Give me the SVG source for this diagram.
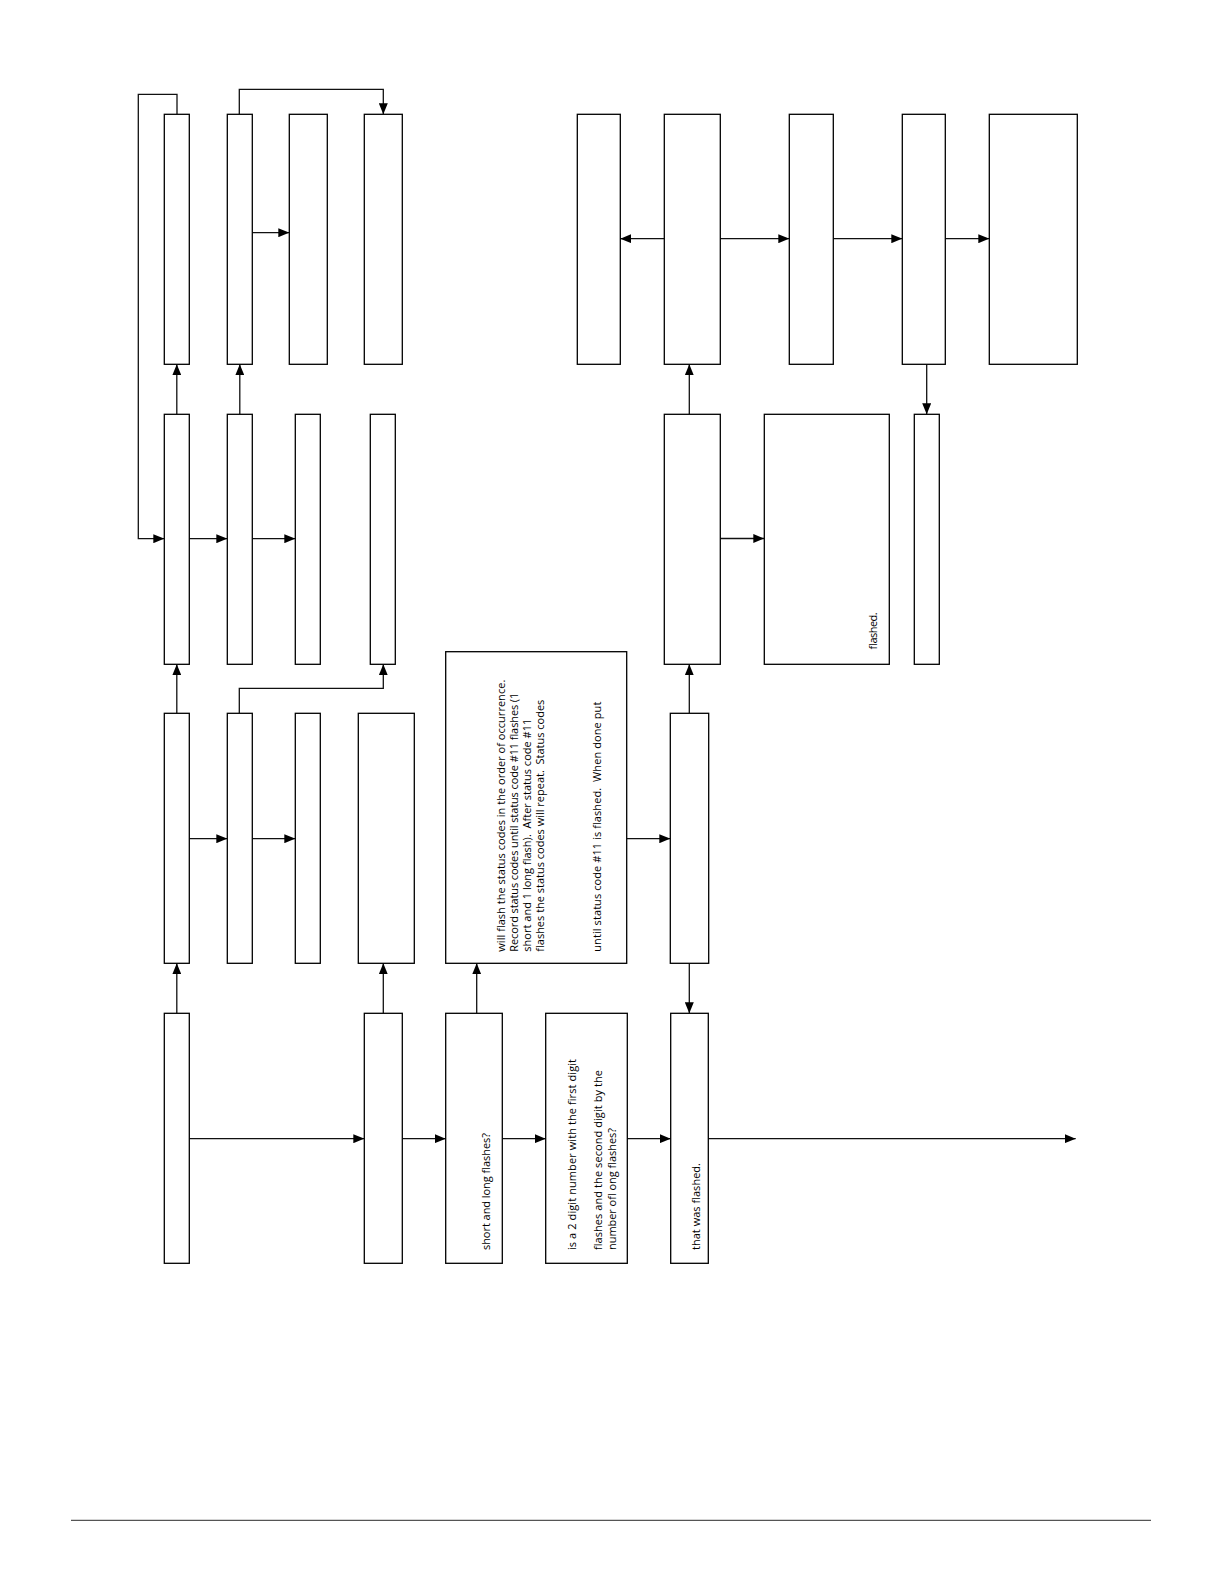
<svg xmlns="http://www.w3.org/2000/svg" width="1224" height="1584" viewBox="0 0 1224 1584">
<style>
.box{fill:#fff;stroke:#000;stroke-width:1.3}
.ln{fill:none;stroke:#111;stroke-width:1.3}
.t{font-family:"Open Sans","Liberation Sans",sans-serif;font-size:11px;fill:#000}
</style>
<defs>
<marker id="ah" viewBox="0 0 11 9" refX="11" refY="4.5" markerWidth="11" markerHeight="9" markerUnits="userSpaceOnUse" orient="auto">
<path d="M0,0 L11,4.5 L0,9 z" fill="#000"/>
</marker>
</defs>
<rect width="1224" height="1584" fill="#fff"/>

<g id="connectors" class="ln" marker-end="url(#ah)">
<path d="M177,114.3 V94.3 H138.3 V538.7 H164.3"/>
<path d="M189.3,538.7 H227.3"/>
<path d="M252.3,538.7 H295.3"/>
<path d="M176.8,414.3 V364.3"/>
<path d="M239.8,414.3 V364.3"/>
<path d="M239.3,114.3 V89.3 H383.3 V114.3"/>
<path d="M252.3,232.7 H289.3"/>
<path d="M176.8,713.3 V664.3"/>
<path d="M189.3,838.7 H227.3"/>
<path d="M252.3,838.7 H295.3"/>
<path d="M239.3,713.3 V688.3 H383.3 V664.3"/>
<path d="M383.3,1013.3 V963.3"/>
<path d="M176.8,1013.3 V963.3"/>
<path d="M189.3,1138.7 H364.3"/>
<path d="M402.3,1138.7 H445.7"/>
<path d="M502.3,1138.7 H545.7"/>
<path d="M627.3,1138.7 H670.7"/>
<path d="M708.3,1138.7 H1075.7"/>
<path d="M476.7,1013.3 V963.3"/>
<path d="M626.7,838.7 H670.3"/>
<path d="M689.3,963.3 V1013.3"/>
<path d="M689.3,713.3 V664.3"/>
<path d="M720.3,538.5 H764.3"/>
<path d="M689.3,414.3 V364.3"/>
<path d="M664.3,238.7 H620.3"/>
<path d="M720.3,238.7 H789.3"/>
<path d="M833.3,238.7 H902.3"/>
<path d="M945.3,238.7 H989.3"/>
<path d="M926.7,364.3 V414.3"/>
</g>

<g id="n-a1"><rect class="box" x="164.3" y="114.3" width="25" height="250"/></g>
<g id="n-b1"><rect class="box" x="227.3" y="114.3" width="25" height="250"/></g>
<g id="n-c1"><rect class="box" x="289.3" y="114.3" width="38" height="250"/></g>
<g id="n-d1"><rect class="box" x="364.3" y="114.3" width="38" height="250"/></g>
<g id="n-e1"><rect class="box" x="577.3" y="114.3" width="43" height="250"/></g>
<g id="n-f1"><rect class="box" x="664.3" y="114.3" width="56" height="250"/></g>
<g id="n-g1"><rect class="box" x="789.3" y="114.3" width="44" height="250"/></g>
<g id="n-h1"><rect class="box" x="902.3" y="114.3" width="43" height="250"/></g>
<g id="n-i1"><rect class="box" x="989.3" y="114.3" width="88" height="250"/></g>

<g id="n-a2"><rect class="box" x="164.3" y="414.3" width="25" height="250"/></g>
<g id="n-b2"><rect class="box" x="227.3" y="414.3" width="25" height="250"/></g>
<g id="n-c2"><rect class="box" x="295.3" y="414.3" width="25" height="250"/></g>
<g id="n-d2"><rect class="box" x="370.3" y="414.3" width="25" height="250"/></g>
<g id="n-f2"><rect class="box" x="664.3" y="414.3" width="56" height="250"/></g>
<g id="n-g2"><rect class="box" x="764.3" y="414.3" width="125" height="250"/>
<text class="t" transform="translate(876.5,650) rotate(-90)" textLength="37">flashed.</text></g>
<g id="n-h2"><rect class="box" x="914.3" y="414.3" width="25" height="250"/></g>

<g id="n-a3"><rect class="box" x="164.3" y="713.3" width="25" height="250"/></g>
<g id="n-b3"><rect class="box" x="227.3" y="713.3" width="25" height="250"/></g>
<g id="n-c3"><rect class="box" x="295.3" y="713.3" width="25" height="250"/></g>
<g id="n-d3"><rect class="box" x="358.3" y="713.3" width="56" height="250"/></g>
<g id="n-e3"><rect class="box" x="445.7" y="651.7" width="181" height="311.6"/>
<text class="t" transform="translate(504.5,951.7) rotate(-90)" textLength="272">will flash the status codes in the order of occurrence.</text>
<text class="t" transform="translate(517.5,951.7) rotate(-90)" textLength="259">Record status codes until status code #11 flashes (1</text>
<text class="t" transform="translate(530.5,951.7) rotate(-90)" textLength="233" xml:space="preserve">short and 1 long flash).  After status code #11</text>
<text class="t" transform="translate(543.5,951.7) rotate(-90)" textLength="252" xml:space="preserve">flashes the status codes will repeat.  Status codes</text>
<text class="t" transform="translate(600.5,951.7) rotate(-90)" textLength="250" xml:space="preserve">until status code #11 is flashed.  When done put</text>
</g>
<g id="n-g3"><rect class="box" x="670.3" y="713.3" width="38.4" height="250"/></g>

<g id="n-a4"><rect class="box" x="164.3" y="1013.3" width="25" height="250"/></g>
<g id="n-d4"><rect class="box" x="364.3" y="1013.3" width="38" height="250"/></g>
<g id="n-e4"><rect class="box" x="445.7" y="1013.3" width="56.6" height="250"/>
<text class="t" transform="translate(490,1250) rotate(-90)" textLength="117">short and long flashes?</text></g>
<g id="n-f4"><rect class="box" x="545.7" y="1013.3" width="81.6" height="250"/>
<text class="t" transform="translate(575.5,1250) rotate(-90)" textLength="191">is a 2 digit number with the first digit</text>
<text class="t" transform="translate(601.5,1250) rotate(-90)" textLength="180">flashes and the second digit by the</text>
<text class="t" transform="translate(615.5,1250) rotate(-90)" textLength="122">number ofl ong flashes?</text></g>
<g id="n-g4"><rect class="box" x="670.7" y="1013.3" width="37.6" height="250"/>
<text class="t" transform="translate(699.5,1250) rotate(-90)" textLength="87">that was flashed.</text></g>

<line x1="71" y1="1520.3" x2="1151" y2="1520.3" stroke="#555" stroke-width="1.2"/>
</svg>
